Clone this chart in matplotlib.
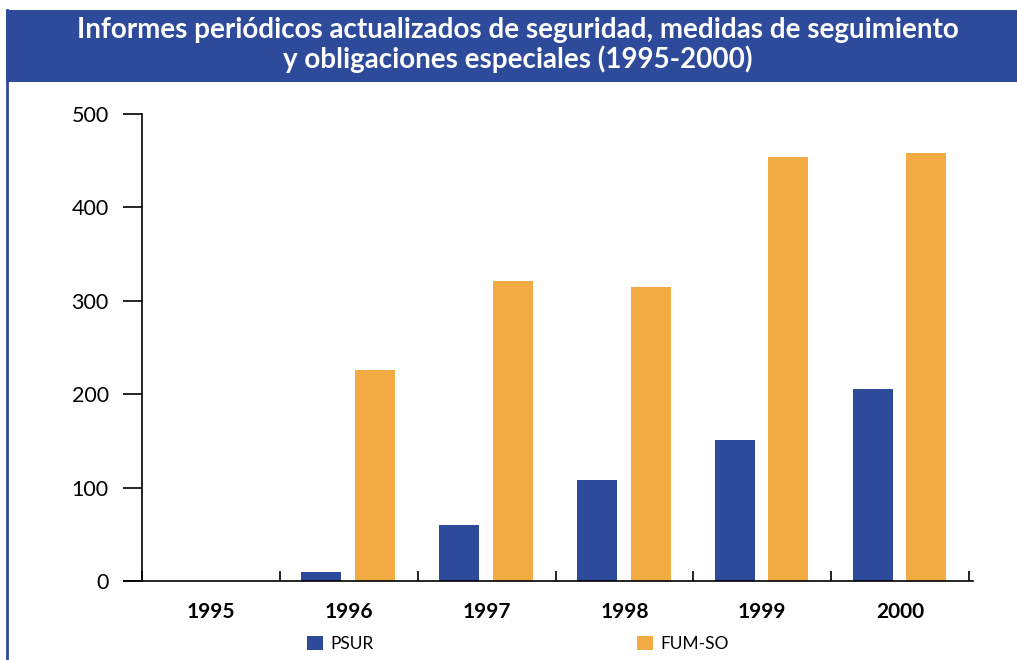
import matplotlib
matplotlib.use("Agg")
import matplotlib.pyplot as plt
from matplotlib.patches import Rectangle
from matplotlib.lines import Line2D
import numpy as np

years = ["1995", "1996", "1997", "1998", "1999", "2000"]
psur = [0, 10, 60, 108, 151, 206]
fumso = [0, 226, 321, 315, 454, 458]
yticks = [0, 100, 200, 300, 400, 500]

BLUE = "#2E4A9A"
ORANGE = "#F2AA43"

plt.rcParams["font.family"] = ["Lato", "DejaVu Sans"]

fig = plt.figure(figsize=(10.17, 6.6), dpi=100)

# title band
fig.patches.append(Rectangle((6/1017, 1-82/660), 1-6/1017, 72/660,
                             transform=fig.transFigure, facecolor=BLUE,
                             edgecolor="none", zorder=0))
fig.lines.append(Line2D([7/1017, 7/1017], [0, 1-10/660], transform=fig.transFigure,
                        color=BLUE, lw=2))
fig.text(0.509, 1-30/660, "Informes periódicos actualizados de seguridad, medidas de seguimiento",
         ha="center", va="center", color="white", fontsize=20, fontweight="bold")
fig.text(0.509, 1-59/660, "y obligaciones especiales (1995-2000)",
         ha="center", va="center", color="white", fontsize=20, fontweight="bold")

left_px, right_px = 124, 973
bot_px, top_px = 581, 114
ax = fig.add_axes([left_px/1017, 1-bot_px/660, (right_px-left_px)/1017, (bot_px-top_px)/660])

x = np.arange(len(years))
w = 0.29
b1 = ax.bar(x - 0.2, psur, w, color=BLUE, label="PSUR", zorder=2)
b2 = ax.bar(x + 0.19, fumso, w, color=ORANGE, label="FUM-SO", zorder=2)

catw = (969 - 142) / 6
xl = -0.5 - (142 - left_px) / catw
xr = 5.5 + (right_px - 969) / catw
ax.set_xlim(xl, xr)
ax.set_ylim(0, 500)

for s in ["top", "right"]:
    ax.spines[s].set_visible(False)
ax.spines["left"].set_position(("data", -0.5))
ax.spines["left"].set_linewidth(1.2)
ax.spines["bottom"].set_linewidth(1.2)

ax.set_yticks(yticks)
ax.set_yticklabels([str(v) for v in yticks], fontsize=15.5)
ax.tick_params(axis="y", direction="out", length=14, width=1.2, pad=10)

ax.set_xticks(np.arange(-0.5, 6, 1.0))
ax.set_xticklabels([])
ax.tick_params(axis="x", which="major", direction="in", length=7.5, width=1.2)
ax.set_xticks(x, minor=True)
ax.set_xticklabels(years, minor=True, fontsize=15, fontweight="bold")
ax.tick_params(axis="x", which="minor", length=0, pad=15)

leg = fig.legend(handles=[b1, b2], loc="center left",
                 bbox_to_anchor=(307/1017, 1-644/660), ncol=2, frameon=False,
                 fontsize=12.5, handlelength=0.92, handleheight=0.92,
                 handletextpad=0.4, columnspacing=15.2, borderaxespad=0,
                 borderpad=0)

fig.savefig("out.png", dpi=100)
